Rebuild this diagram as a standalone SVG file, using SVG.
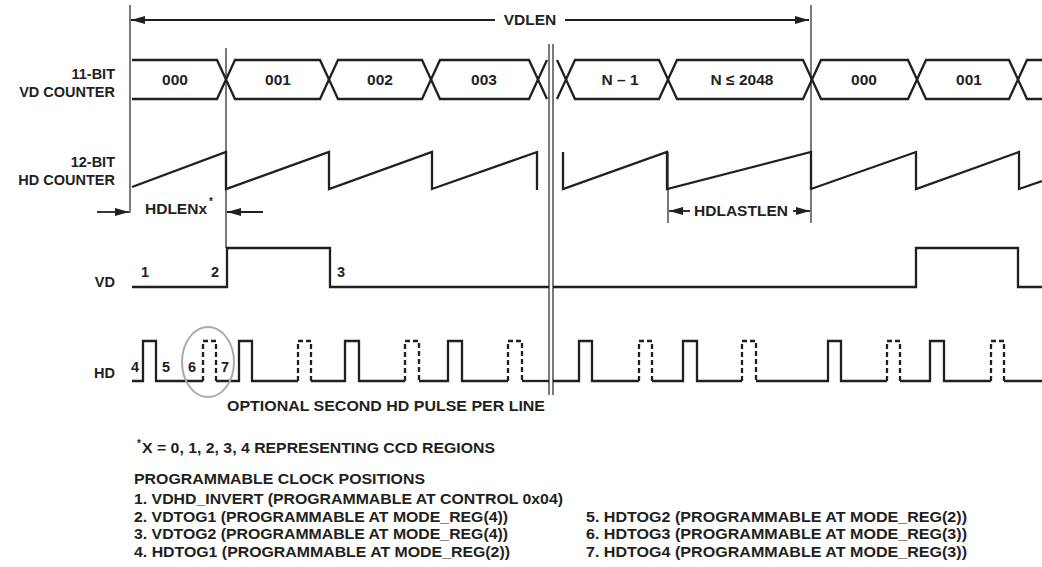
<svg xmlns="http://www.w3.org/2000/svg" width="1042" height="567" viewBox="0 0 1042 567">
<style>
.sig{fill:none;stroke:#231f20;stroke-width:2.3;stroke-linejoin:miter}
.thin{fill:none;stroke:#231f20;stroke-width:1.2}
.dash{fill:none;stroke:#231f20;stroke-width:2.3;stroke-dasharray:5 3}
.arr{fill:none;stroke:#231f20;stroke-width:1.8}
text{font-family:"Liberation Sans",Arial,Helvetica,sans-serif;font-weight:bold;fill:#231f20;font-size:14.5px}
.lbl{text-anchor:end}
.mid{text-anchor:middle}
.big{font-size:15.5px}
.ft{font-size:15px}
.sup{font-size:10px}
</style>
<defs>
<marker id="ah" viewBox="0 0 14 8" refX="14" refY="4" markerWidth="14" markerHeight="8" markerUnits="userSpaceOnUse" orient="auto-start-reverse">
<path d="M0,0 L14,4 L0,8 Z" fill="#231f20"/>
</marker>
</defs>
<rect width="1042" height="567" fill="#fff"/>

<g id="guides">
<line class="thin" x1="130" y1="5" x2="130" y2="213"/>
<line class="thin" x1="226" y1="48" x2="226" y2="248"/>
<line class="thin" x1="811" y1="5" x2="811" y2="223"/>
<line class="thin" x1="668" y1="152" x2="668" y2="223"/>
</g>

<g id="connectors">
<line class="arr" x1="131" y1="20" x2="495" y2="20" marker-start="url(#ah)"/>
<line class="arr" x1="565" y1="20" x2="809" y2="20" marker-end="url(#ah)"/>
<line class="arr" x1="97" y1="212" x2="129" y2="212" marker-end="url(#ah)"/>
<line class="arr" x1="263" y1="212" x2="227" y2="212" marker-end="url(#ah)"/>
<line class="arr" x1="690" y1="211" x2="669" y2="211" marker-end="url(#ah)"/>
<line class="arr" x1="793" y1="211" x2="810" y2="211" marker-end="url(#ah)"/>
</g>

<g id="vdlen">
<text class="mid big" x="530" y="25">VDLEN</text>
</g>

<g id="vd-counter">
<text class="lbl" x="115" y="79">11-BIT</text>
<text class="lbl" x="115" y="97">VD COUNTER</text>
<path class="sig" d="M132,60 H217 L226,79.5 L217,99 H132"/>
<path class="sig" d="M226,79.5 L235,60 H320 L329,79.5 L320,99 H235 Z"/>
<path class="sig" d="M329,79.5 L338,60 H422 L431,79.5 L422,99 H338 Z"/>
<path class="sig" d="M431,79.5 L440,60 H529 L538,79.5 L529,99 H440 Z"/>
<path class="sig" d="M547,60 L538,79.5 L547,99"/>
<path class="sig" d="M557,60 L566,79.5 L557,99"/>
<path class="sig" d="M566,79.5 L575,60 H659 L668,79.5 L659,99 H575 Z"/>
<path class="sig" d="M668,79.5 L677,60 H803 L812,79.5 L803,99 H677 Z"/>
<path class="sig" d="M812,79.5 L821,60 H908 L917,79.5 L908,99 H821 Z"/>
<path class="sig" d="M917,79.5 L926,60 H1009 L1018,79.5 L1009,99 H926 Z"/>
<path class="sig" d="M1042,60 H1027 L1018,79.5 L1027,99 H1042"/>
<text class="mid big" x="175" y="85">000</text>
<text class="mid big" x="278" y="85">001</text>
<text class="mid big" x="380" y="85">002</text>
<text class="mid big" x="484" y="85">003</text>
<text class="mid big" x="620" y="85">N – 1</text>
<text class="mid big" x="742" y="85">N ≤ 2048</text>
<text class="mid big" x="864" y="85">000</text>
<text class="mid big" x="969" y="85">001</text>
</g>

<g id="hd-counter">
<text class="lbl" x="115" y="167">12-BIT</text>
<text class="lbl" x="115" y="185">HD COUNTER</text>
<path class="sig" d="M132,187 L226,152 V189 L329,152 V189 L432,152 V189 L537,152 V190"/>
<path class="sig" d="M563,152 V189 L667,152 V189 L811,152 V189 L916,152 V189 L1019,152 V189 L1042,181"/>
<text class="big" x="145" y="214">HDLENx</text>
<text class="sup" x="209" y="205">*</text>
<text class="mid big" x="741" y="216">HDLASTLEN</text>
</g>

<g id="vd">
<text class="lbl" x="115" y="287">VD</text>
<path class="sig" d="M132,287 H227 V248 H330 V287 H549"/>
<path class="sig" d="M553,287 H916 V248 H1018 V287 H1042"/>
<text class="mid" x="145" y="277">1</text>
<text class="mid" x="215" y="277">2</text>
<text class="mid" x="341" y="277">3</text>
</g>

<g id="hd">
<text class="lbl" x="115" y="378">HD</text>
<path class="sig" d="M132,381 H143 V341 H156 V381 H203"/>
<path class="dash" d="M203,381 V341 H216 V381"/>
<path class="sig" d="M216,381 H239 V341 H252 V381 H298"/>
<path class="dash" d="M298,381 V341 H311 V381"/>
<path class="sig" d="M311,381 H345 V341 H359 V381 H405"/>
<path class="dash" d="M405,381 V341 H419 V381"/>
<path class="sig" d="M419,381 H448 V341 H462 V381 H508"/>
<path class="dash" d="M508,381 V341 H522 V381"/>
<path class="sig" d="M522,381 H549"/>
<path class="sig" d="M553,381 H579 V341 H592 V381 H639"/>
<path class="dash" d="M639,381 V341 H652 V381"/>
<path class="sig" d="M652,381 H683 V341 H697 V381 H742"/>
<path class="dash" d="M742,381 V341 H756 V381"/>
<path class="sig" d="M756,381 H828 V341 H841 V381 H887"/>
<path class="dash" d="M887,381 V341 H900 V381"/>
<path class="sig" d="M900,381 H930 V341 H944 V381 H991"/>
<path class="dash" d="M991,381 V341 H1004 V381"/>
<path class="sig" d="M1004,381 H1042"/>
<text class="mid" x="135" y="372">4</text>
<text class="mid" x="166" y="372">5</text>
<text class="mid" x="192" y="372">6</text>
<text class="mid" x="225" y="372">7</text>
<ellipse cx="208" cy="362" rx="26" ry="35" fill="none" stroke="#a7a9ac" stroke-width="2"/>
</g>

<g id="break">
<rect x="549.5" y="44" width="3" height="351" fill="#fff"/>
<line class="thin" x1="549" y1="44" x2="549" y2="395"/>
<line class="thin" x1="553" y1="44" x2="553" y2="395"/>
</g>

<g id="notes">
<text class="ft" x="227" y="411" textLength="318" lengthAdjust="spacingAndGlyphs">OPTIONAL SECOND HD PULSE PER LINE</text>
<text class="sup" x="137" y="447">*</text>
<text class="ft" x="142" y="453" textLength="353" lengthAdjust="spacingAndGlyphs">X = 0, 1, 2, 3, 4 REPRESENTING CCD REGIONS</text>
<text class="ft" x="134" y="484" textLength="291" lengthAdjust="spacingAndGlyphs">PROGRAMMABLE CLOCK POSITIONS</text>
<text class="ft" x="134" y="504" textLength="429" lengthAdjust="spacingAndGlyphs">1. VDHD_INVERT (PROGRAMMABLE AT CONTROL 0x04)</text>
<text class="ft" x="134" y="522" textLength="374" lengthAdjust="spacingAndGlyphs">2. VDTOG1 (PROGRAMMABLE AT MODE_REG(4))</text>
<text class="ft" x="134" y="539" textLength="374" lengthAdjust="spacingAndGlyphs">3. VDTOG2 (PROGRAMMABLE AT MODE_REG(4))</text>
<text class="ft" x="134" y="557" textLength="376" lengthAdjust="spacingAndGlyphs">4. HDTOG1 (PROGRAMMABLE AT MODE_REG(2))</text>
<text class="ft" x="586" y="522" textLength="381" lengthAdjust="spacingAndGlyphs">5. HDTOG2 (PROGRAMMABLE AT MODE_REG(2))</text>
<text class="ft" x="586" y="539" textLength="381" lengthAdjust="spacingAndGlyphs">6. HDTOG3 (PROGRAMMABLE AT MODE_REG(3))</text>
<text class="ft" x="586" y="557" textLength="381" lengthAdjust="spacingAndGlyphs">7. HDTOG4 (PROGRAMMABLE AT MODE_REG(3))</text>
</g>
</svg>
